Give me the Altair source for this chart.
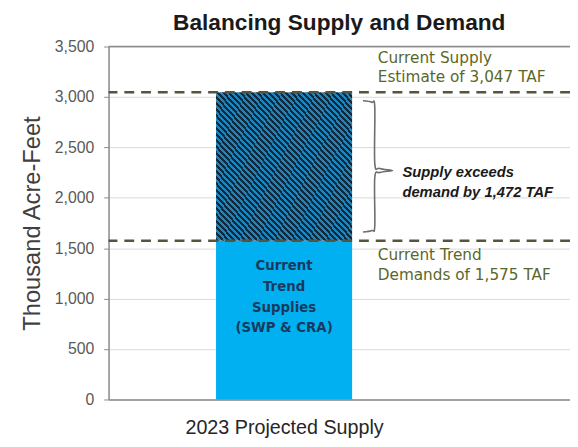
import altair as alt
import pandas as pd

# ---- data ----
categories = ["2023 Projected Supply"]
trend_supplies = [1575]        # Current Trend Supplies (SWP & CRA)
supply_estimate = [3047]       # Current Supply Estimate (TAF)
trend_demand = [1575]          # Current Trend Demands (TAF)
surplus = [1472]               # Supply exceeds demand by (TAF)
y_ticks = [0, 500, 1000, 1500, 2000, 2500, 3000, 3500]

title_text = "Balancing Supply and Demand"
y_title = "Thousand Acre-Feet"
bar_label = ["Current", "Trend", "Supplies", "(SWP & CRA)"]
supply_label = ["Current Supply", "Estimate of 3,047 TAF"]
demand_label = ["Current Trend", "Demands of 1,575 TAF"]
gap_label = ["Supply exceeds", "demand by 1,472 TAF"]

# ---- layout constants (plot coordinate units along x) ----
W, H = 468, 358
BAR_X0, BAR_X1 = 109, 247
BAR_C = (BAR_X0 + BAR_X1) / 2
NOTE_X = 273
BRACE_X = 270
GAP_X = 298

FONT = "Liberation Sans"
WIDE = "DejaVu Sans"
OLIVE = "#5a672a"

xs = alt.Scale(domain=[0, W], nice=False, zero=False)
ys = alt.Scale(domain=[0, 3500], nice=False)

bars = pd.DataFrame({
    "cat": categories,
    "x0": [BAR_X0], "x1": [BAR_X1],
    "base": [0], "trend": trend_supplies, "total": supply_estimate,
})

# striped gradient for hatched part
N = 48
stops = []
for i in range(N):
    a, b, c = i / N, (i + 0.5) / N, (i + 1) / N
    stops += [alt.GradientStop(offset=a, color="#10293d"),
              alt.GradientStop(offset=b, color="#10293d"),
              alt.GradientStop(offset=b, color="#1f86bd"),
              alt.GradientStop(offset=c, color="#1f86bd")]
hatch = alt.Gradient(gradient="linear", stops=stops, x1=0, y1=1, x2=1, y2=0)

x_enc = alt.X("x0:Q", scale=xs, axis=alt.Axis(
    values=[BAR_C], labelExpr="'" + categories[0] + "'", ticks=False, grid=False,
    title=None, labelFont=FONT, labelFontSize=20, labelColor="#262626", labelLimit=0,
    labelPadding=19, domainColor="#8c8c8c", domainWidth=1.5))
y_enc = alt.Y("base:Q", scale=ys, axis=alt.Axis(
    values=y_ticks, format=",.0f", title=y_title, titleFont=FONT, titleFontSize=24,
    titleFontWeight="normal", titleColor="#404040", titlePadding=10,
    labelFont=FONT, labelFontSize=16, labelColor="#595959", labelPadding=10,
    gridColor="#d9d9d9", domainColor="#8c8c8c", domainWidth=1.5,
    tickColor="#8c8c8c", tickSize=5))

base_bar = alt.Chart(bars).mark_bar(color="#00b0f0").encode(
    x=x_enc, x2="x1:Q", y=y_enc, y2="trend:Q")

hatch_bar = alt.Chart(bars).mark_bar(color=hatch).encode(
    x=alt.X("x0:Q", scale=xs), x2="x1:Q",
    y=alt.Y("trend:Q", scale=ys), y2="total:Q")

top_line = alt.Chart(pd.DataFrame({"v": [y_ticks[-1]]})).mark_rule(
    color="#8c8c8c", strokeWidth=1.5).encode(y=alt.Y("v:Q", scale=ys))

lines_df = pd.DataFrame({"v": [supply_estimate[0], trend_demand[0]]})
dashed = alt.Chart(lines_df).mark_rule(
    color="#55553f", strokeWidth=2.5, strokeDash=[10, 7]).encode(
    y=alt.Y("v:Q", scale=ys))

# bar text
bar_text = alt.Chart(pd.DataFrame({"x": [BAR_C], "y": trend_supplies, "t": [bar_label]})).mark_text(
    font=WIDE, fontSize=13.5, fontWeight="bold", color="#173a5e", lineHeight=21,
    baseline="top", align="center", dy=19).encode(
    x=alt.X("x:Q", scale=xs), y=alt.Y("y:Q", scale=ys), text="t")

sup_text = alt.Chart(pd.DataFrame({"x": [NOTE_X], "y": supply_estimate, "t": [supply_label]})).mark_text(
    font=WIDE, fontSize=15.5, color=OLIVE, lineHeight=20, baseline="top",
    align="left", dy=-42).encode(
    x=alt.X("x:Q", scale=xs), y=alt.Y("y:Q", scale=ys), text="t")

dem_text = alt.Chart(pd.DataFrame({"x": [NOTE_X], "y": trend_demand, "t": [demand_label]})).mark_text(
    font=WIDE, fontSize=15.5, color=OLIVE, lineHeight=20, baseline="top",
    align="left", dy=8).encode(
    x=alt.X("x:Q", scale=xs), y=alt.Y("y:Q", scale=ys), text="t")

mid = (supply_estimate[0] + trend_demand[0]) / 2
gap_text = alt.Chart(pd.DataFrame({"x": [GAP_X], "y": [mid], "t": [gap_label]})).mark_text(
    font=FONT, fontSize=15, fontWeight="bold", fontStyle="italic", color="#1a1a1a",
    lineHeight=20, baseline="middle", align="left", dy=6).encode(
    x=alt.X("x:Q", scale=xs), y=alt.Y("y:Q", scale=ys), text="t")

# curly brace built from the two levels
top = supply_estimate[0] - 85
bot = trend_demand[0] + 85
bmid = mid - 40
brace_pts = [
    (BRACE_X - 12, top), (BRACE_X - 3, top - 15), (BRACE_X, top - 60),
    (BRACE_X, bmid + 70), (BRACE_X + 5, bmid + 20), (BRACE_X + 18, bmid),
    (BRACE_X + 5, bmid - 20), (BRACE_X, bmid - 70),
    (BRACE_X, bot + 60), (BRACE_X - 3, bot + 15), (BRACE_X - 12, bot),
]
brace_df = pd.DataFrame({"x": [p[0] for p in brace_pts], "y": [p[1] for p in brace_pts],
                         "o": list(range(len(brace_pts)))})
brace = alt.Chart(brace_df).mark_line(color="#6e6e6e", strokeWidth=1.6, interpolate="cardinal").encode(
    x=alt.X("x:Q", scale=xs), y=alt.Y("y:Q", scale=ys), order="o:Q")

chart = alt.layer(
    base_bar, hatch_bar, top_line, dashed, brace, bar_text, sup_text, dem_text, gap_text
).properties(
    width=W, height=H,
    title=alt.TitleParams(title_text, font=FONT, fontSize=23, fontWeight="bold",
                          color="#1a1a1a", anchor="middle", offset=4),
    padding={"left": 102, "top": 36, "right": 0, "bottom": 37},
    autosize="none",
).configure_view(stroke=None).configure(background="white")

chart.save("out.html", embed_options={"renderer": "svg", "actions": False})
